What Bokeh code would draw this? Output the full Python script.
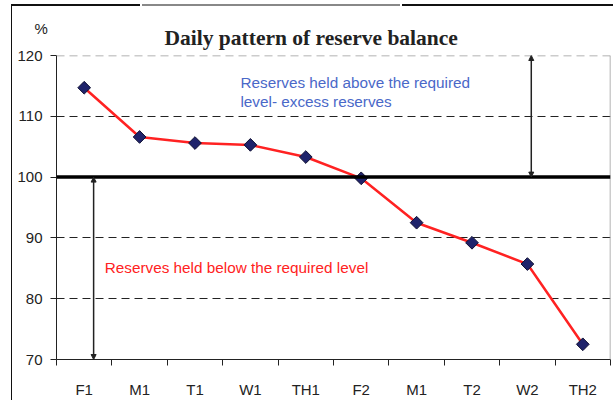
from bokeh.plotting import figure
from bokeh.models import Range1d, FixedTicker, Span, Label, Arrow, NormalHead, ColumnDataSource, Title, InlineStyleSheet
from bokeh.embed import file_html
from bokeh.resources import INLINE
import math

categories = ["F1", "M1", "T1", "W1", "TH1", "F2", "M1", "T2", "W2", "TH2"]
balance = [114.7, 106.6, 105.6, 105.3, 103.3, 99.8, 92.5, 89.2, 85.7, 72.5]
y_ticks = [70, 80, 90, 100, 110, 120]

xs = [i + 0.5 for i in range(len(categories))]
bounds = list(range(len(categories) + 1))

# unit "%" is the plot's own title (outermost row); the chart title is an inner row
p = figure(width=613, height=400, output_backend="svg", toolbar_location=None,
           x_range=Range1d(0, len(categories)), y_range=Range1d(70, 120),
           min_border_left=56, min_border_right=3, min_border_top=55, min_border_bottom=36,
           title="%")
p.outline_line_color = None
p.background_fill_color = "white"

p.title.align = "left"
p.title.offset = -22
p.title.text_font = "Liberation Sans"
p.title.text_font_size = "15px"
p.title.text_font_style = "normal"
p.title.text_color = "#222"
try:
    p.title.standoff = -37
except Exception:
    p.title.standoff = 0

main_title = Title(text="Daily pattern of reserve balance", align="left", offset=108, standoff=11,
                   text_font="Liberation Serif", text_font_size="21.5px", text_font_style="bold",
                   text_color="#222")
p.add_layout(main_title, "above")

# scanned page border (left edge and top edge of the source page)
p.stylesheets = [InlineStyleSheet(css="""
:host::before {content: ""; position: absolute; left: 11px; top: 4px; width: 0; height: 396px;
  border-left: 1.5px solid #111; pointer-events: none; z-index: 10;}
:host::after {content: ""; position: absolute; left: 11px; top: 4px; width: 602px; height: 1.5px;
  background: linear-gradient(to right, #111 0 129px, #fff 129px 131px, #888 131px 389px,
  #fff 389px 391px, #111 391px); pointer-events: none; z-index: 10;}
""")]

# axes
p.xaxis.ticker = FixedTicker(ticks=xs, minor_ticks=bounds)
p.xaxis.major_label_overrides = {x: c for x, c in zip(xs, categories)}
p.xaxis.major_tick_out = 0
p.xaxis.major_tick_in = 0
p.xaxis.minor_tick_out = 6
p.xaxis.minor_tick_in = 0
p.xaxis.minor_tick_line_color = "#222"
p.xaxis.major_label_standoff = 15

p.yaxis.ticker = FixedTicker(ticks=y_ticks)
p.yaxis.major_tick_out = 6
p.yaxis.major_tick_in = 0
p.yaxis.minor_tick_line_color = None
p.yaxis.major_label_standoff = 8

for ax in (p.xaxis, p.yaxis):
    ax.axis_line_color = "#222"
    ax.major_tick_line_color = "#222"
    ax.major_label_text_font = "Liberation Sans"
    ax.major_label_text_font_size = "15px"
    ax.major_label_text_color = "#222"

p.xgrid.visible = False
p.ygrid.ticker = FixedTicker(ticks=[80, 90, 110])
p.ygrid.grid_line_color = "#222"
p.ygrid.grid_line_dash = "8 5"
p.ygrid.grid_line_width = 1

p.add_layout(Span(location=120, dimension="width", line_color="#999999", line_dash="8 5", line_width=1.5))
p.add_layout(Span(location=len(categories), dimension="height", line_color="#999999", line_width=1.5))
p.add_layout(Span(location=100, dimension="width", line_color="black", line_width=3.5))

# series
src = ColumnDataSource(dict(x=xs, y=balance))
p.line("x", "y", source=src, line_color="#ff2222", line_width=2.5)
p.scatter("x", "y", source=src, marker="square", angle=math.pi / 4, size=9,
          fill_color="#1f236b", line_color="#111133", line_width=1)

# arrows
p.add_layout(Arrow(x_start=8.57, y_start=100, x_end=8.57, y_end=120, line_color="#222", line_width=1.5,
                   start=NormalHead(size=5, fill_color="#222", line_color="#222"),
                   end=NormalHead(size=5, fill_color="#222", line_color="#222")))
p.add_layout(Arrow(x_start=0.67, y_start=70, x_end=0.67, y_end=100, line_color="#222", line_width=1.5,
                   start=NormalHead(size=5, fill_color="#222", line_color="#222"),
                   end=NormalHead(size=5, fill_color="#222", line_color="#222")))

# annotation texts
blue = "#4a68c8"
p.add_layout(Label(x=3.32, y=115.6, text="Reserves held above the required", text_color=blue,
                   text_font="Liberation Sans", text_font_size="15.3px", text_baseline="middle"))
p.add_layout(Label(x=3.32, y=112.4, text="level- excess reserves", text_color=blue,
                   text_font="Liberation Sans", text_font_size="15.3px", text_baseline="middle"))
p.add_layout(Label(x=0.87, y=85.2, text="Reserves held below the required level", text_color="#ff2222",
                   text_font="Liberation Sans", text_font_size="15.3px", text_baseline="middle"))

open("out.html", "w").write(file_html(p, INLINE))
